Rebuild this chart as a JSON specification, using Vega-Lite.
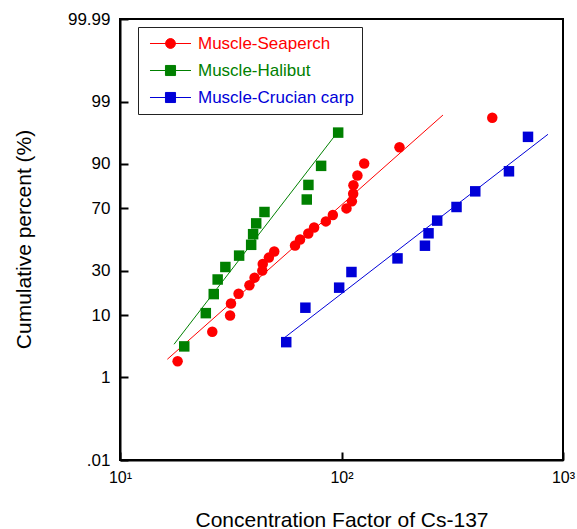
{
  "$schema": "https://vega.github.io/schema/vega-lite/v6.json",
  "width": 443,
  "height": 441,
  "autosize": "none",
  "padding": {"left": 120, "top": 19, "right": 14, "bottom": 69},
  "view": {"stroke": "#000000", "strokeWidth": 2},
  "config": {
    "font": "Liberation Sans",
    "axis": {"domain": true, "ticks": true, "domainColor": "#000000", "tickColor": "#000000", "domainWidth": 2, "tickWidth": 2, "labelOverlap": false}
  },
  "datasets": {
    "pts": [
      {"series": "Muscle-Seaperch", "cf": 18.2, "pct": 2},
      {"series": "Muscle-Seaperch", "cf": 26.1, "pct": 6},
      {"series": "Muscle-Seaperch", "cf": 31.4, "pct": 10},
      {"series": "Muscle-Seaperch", "cf": 31.7, "pct": 14},
      {"series": "Muscle-Seaperch", "cf": 34.3, "pct": 18},
      {"series": "Muscle-Seaperch", "cf": 38.4, "pct": 22},
      {"series": "Muscle-Seaperch", "cf": 40.5, "pct": 26},
      {"series": "Muscle-Seaperch", "cf": 43.9, "pct": 30},
      {"series": "Muscle-Seaperch", "cf": 44.1, "pct": 34},
      {"series": "Muscle-Seaperch", "cf": 47.0, "pct": 38},
      {"series": "Muscle-Seaperch", "cf": 49.7, "pct": 42},
      {"series": "Muscle-Seaperch", "cf": 61.7, "pct": 46},
      {"series": "Muscle-Seaperch", "cf": 65.0, "pct": 50},
      {"series": "Muscle-Seaperch", "cf": 70.8, "pct": 54},
      {"series": "Muscle-Seaperch", "cf": 75.2, "pct": 58},
      {"series": "Muscle-Seaperch", "cf": 85.0, "pct": 62},
      {"series": "Muscle-Seaperch", "cf": 91.4, "pct": 66},
      {"series": "Muscle-Seaperch", "cf": 105.3, "pct": 70},
      {"series": "Muscle-Seaperch", "cf": 111.4, "pct": 74},
      {"series": "Muscle-Seaperch", "cf": 112.9, "pct": 78},
      {"series": "Muscle-Seaperch", "cf": 113.2, "pct": 82},
      {"series": "Muscle-Seaperch", "cf": 118.0, "pct": 86},
      {"series": "Muscle-Seaperch", "cf": 126.6, "pct": 90},
      {"series": "Muscle-Seaperch", "cf": 182.7, "pct": 94},
      {"series": "Muscle-Seaperch", "cf": 479.4, "pct": 98},
      {"series": "Muscle-Halibut", "cf": 19.5, "pct": 3.57},
      {"series": "Muscle-Halibut", "cf": 24.4, "pct": 10.71},
      {"series": "Muscle-Halibut", "cf": 26.5, "pct": 17.86},
      {"series": "Muscle-Halibut", "cf": 27.6, "pct": 25},
      {"series": "Muscle-Halibut", "cf": 29.9, "pct": 32.14},
      {"series": "Muscle-Halibut", "cf": 34.5, "pct": 39.29},
      {"series": "Muscle-Halibut", "cf": 39.1, "pct": 46.43},
      {"series": "Muscle-Halibut", "cf": 39.9, "pct": 53.57},
      {"series": "Muscle-Halibut", "cf": 41.2, "pct": 60.71},
      {"series": "Muscle-Halibut", "cf": 44.9, "pct": 67.86},
      {"series": "Muscle-Halibut", "cf": 69.7, "pct": 75},
      {"series": "Muscle-Halibut", "cf": 70.9, "pct": 82.14},
      {"series": "Muscle-Halibut", "cf": 80.9, "pct": 89.29},
      {"series": "Muscle-Halibut", "cf": 96.6, "pct": 96.43},
      {"series": "Muscle-Crucian carp", "cf": 56.3, "pct": 4.17},
      {"series": "Muscle-Crucian carp", "cf": 68.7, "pct": 12.5},
      {"series": "Muscle-Crucian carp", "cf": 97.6, "pct": 20.83},
      {"series": "Muscle-Crucian carp", "cf": 110.9, "pct": 29.17},
      {"series": "Muscle-Crucian carp", "cf": 179.0, "pct": 37.5},
      {"series": "Muscle-Crucian carp", "cf": 238.1, "pct": 45.83},
      {"series": "Muscle-Crucian carp", "cf": 247.1, "pct": 54.17},
      {"series": "Muscle-Crucian carp", "cf": 270.4, "pct": 62.5},
      {"series": "Muscle-Crucian carp", "cf": 330.6, "pct": 70.83},
      {"series": "Muscle-Crucian carp", "cf": 401.7, "pct": 79.17},
      {"series": "Muscle-Crucian carp", "cf": 570.2, "pct": 87.5},
      {"series": "Muscle-Crucian carp", "cf": 695.0, "pct": 95.83}
    ],
    "fits": [
      {"series": "Muscle-Seaperch", "cf": 16.36, "pct": 2.17},
      {"series": "Muscle-Seaperch", "cf": 287.1, "pct": 98.21},
      {"series": "Muscle-Halibut", "cf": 17.54, "pct": 3.86},
      {"series": "Muscle-Halibut", "cf": 94.6, "pct": 96.24},
      {"series": "Muscle-Crucian carp", "cf": 53.4, "pct": 4.46},
      {"series": "Muscle-Crucian carp", "cf": 855.4, "pct": 96.2}
    ],
    "frame": [{}]
  },
  "layer": [
    {
      "data": {"name": "fits"},
      "transform": [{"calculate": "quantileNormal(datum.pct/100)", "as": "z"}],
      "mark": {"type": "line", "strokeWidth": 1, "clip": true},
      "encoding": {
        "x": {"field": "cf", "type": "quantitative", "scale": {"type": "log", "domain": [10, 1000], "nice": false},
          "axis": {"orient": "bottom", "values": [10, 100, 1000], "grid": false, "zindex": 1,
            "domain": true, "domainColor": "#000000", "domainWidth": 2,
            "ticks": true, "tickColor": "#000000", "tickWidth": 2, "tickSize": -8,
            "labelExpr": "datum.value < 50 ? '10¹' : datum.value < 500 ? '10²' : '10³'",
            "labelFont": "Liberation Sans", "labelFontSize": 16, "labelPadding": 17, "labelColor": "#000000", "labelFlush": false, "labelOverlap": false, "labelBound": false, "labelSeparation": -8,
            "title": "Concentration Factor of Cs-137", "titleFont": "Liberation Sans", "titleFontWeight": "normal", "titleColor": "#000000",
            "titleFontSize": 21, "titleY": 66, "titleBaseline": "alphabetic"}},
        "y": {"field": "z", "type": "quantitative", "scale": {"domain": [-3.719, 3.719], "nice": false, "zero": false},
          "axis": {"orient": "left", "grid": false, "zindex": 1,
            "domain": true, "domainColor": "#000000", "domainWidth": 2,
            "ticks": true, "tickColor": "#000000", "tickWidth": 2, "tickSize": -8,
            "values": [-3.719, -3.0902, -2.3263, -1.6449, -1.2816, -0.8416, -0.5244, 0, 0.5244, 0.8416, 1.2816, 1.6449, 2.3263, 3.0902, 3.719],
            "labelExpr": "datum.value < -3.5 ? '.01' : datum.value < -3 ? '.1' : datum.value > 3.5 ? '99.99' : datum.value > 3 ? '99.9' : format(cumulativeNormal(datum.value)*100, '.0f')",
            "labelFont": "Liberation Sans", "labelFontSize": 17, "labelPadding": 18, "labelColor": "#000000", "labelFlush": false, "labelOverlap": false, "labelBound": false, "labelSeparation": -8,
            "title": "Cumulative percent (%)", "titleFont": "Liberation Sans", "titleFontWeight": "normal", "titleColor": "#000000",
            "titleFontSize": 21, "titleX": -90, "titleY": 220, "titleAngle": 270, "titleBaseline": "alphabetic", "titleAlign": "center"}},
        "detail": {"field": "series"},
        "color": {"field": "series", "type": "nominal",
          "scale": {"domain": ["Muscle-Seaperch", "Muscle-Halibut", "Muscle-Crucian carp"], "range": ["#FF0000", "#008000", "#0000D8"]},
          "legend": {
            "title": null, "orient": "none", "legendX": 18, "legendY": 8,
            "direction": "vertical",
            "padding": 8, "strokeColor": "#222222", "fillColor": "white",
            "symbolSize": 196, "symbolOffset": 16, "labelOffset": 19, "rowPadding": 9,
            "labelFontSize": 17, "labelFont": "Liberation Sans", "labelLimit": 300,
            "symbolType": {"expr": "datum.value === 'Muscle-Seaperch' ? 'M-2.93,0H2.93M0.7,0A0.7,0.7,0,1,1,-0.7,0A0.7,0.7,0,1,1,0.7,0Z' : 'M-2.93,0H2.93M-0.72,-0.72H0.72V0.72H-0.72Z'"},
            "symbolStrokeColor": {"expr": "datum.value === 'Muscle-Seaperch' ? '#FF0000' : datum.value === 'Muscle-Halibut' ? '#008000' : '#0000D8'"},
            "symbolFillColor": {"expr": "datum.value === 'Muscle-Seaperch' ? '#FF0000' : datum.value === 'Muscle-Halibut' ? '#008000' : '#0000D8'"},
            "symbolStrokeWidth": 1,
            "symbolOpacity": 1,
            "labelColor": {"expr": "datum.value === 'Muscle-Seaperch' ? '#FF0000' : datum.value === 'Muscle-Halibut' ? '#008000' : '#0000D8'"}
          }}
      }
    },
    {
      "data": {"name": "pts"},
      "transform": [
        {"filter": "datum.series === 'Muscle-Seaperch'"},
        {"calculate": "quantileNormal(datum.pct/100)", "as": "z"}
      ],
      "mark": {"type": "circle", "opacity": 1, "size": 110},
      "encoding": {
        "x": {"field": "cf", "type": "quantitative"},
        "y": {"field": "z", "type": "quantitative"},
        "color": {"field": "series", "type": "nominal"}
      }
    },
    {
      "data": {"name": "pts"},
      "transform": [
        {"filter": "datum.series !== 'Muscle-Seaperch'"},
        {"calculate": "quantileNormal(datum.pct/100)", "as": "z"}
      ],
      "mark": {"type": "square", "opacity": 1, "size": 110},
      "encoding": {
        "x": {"field": "cf", "type": "quantitative"},
        "y": {"field": "z", "type": "quantitative"},
        "color": {"field": "series", "type": "nominal"}
      }
    },
    {
      "data": {"name": "frame"},
      "mark": {"type": "rect", "filled": false, "stroke": "#000000", "strokeWidth": 2},
      "encoding": {}
    }
  ]
}
